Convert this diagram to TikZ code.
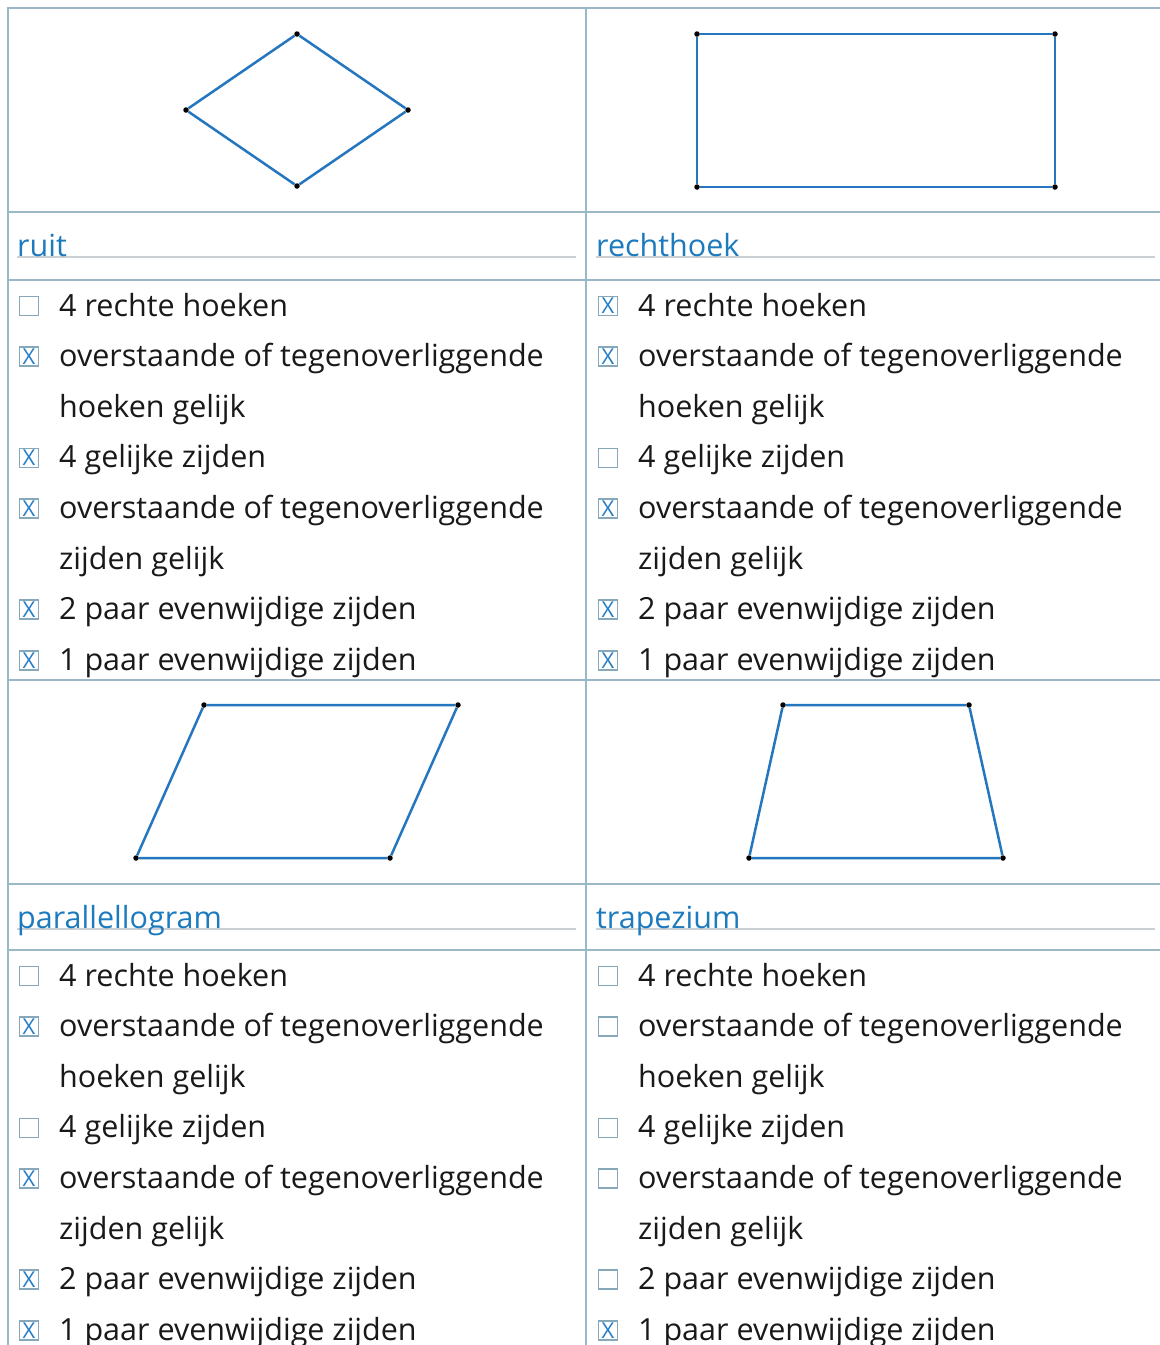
\documentclass[tikz,border=0pt]{standalone}
\usepackage{fontspec}
\setmainfont{Open Sans}
\definecolor{tabcol}{RGB}{155,184,198}
\definecolor{figcol}{RGB}{36,118,190}
\definecolor{labcol}{RGB}{28,122,190}
\definecolor{guidecol}{RGB}{205,208,210}
\definecolor{boxcol}{RGB}{135,168,186}
\definecolor{crosscol}{RGB}{35,125,200}

\begin{document}
\begin{tikzpicture}[x=1pt,y=-1pt]
\tikzstyle{every node}=[font=\fontsize{30.5}{36}\selectfont]
\tikzstyle{dot}=[circle,fill=black,minimum size=5.5pt,inner sep=0pt]
\tikzstyle{tabline}=[draw=tabcol,line width=2.2pt]
\tikzstyle{guide}=[draw=guidecol,line width=1.8pt]
\tikzstyle{figline}=[draw=figcol,line width=2.5pt]
\tikzstyle{shapename}=[anchor=base west,inner sep=0pt,text=labcol]
\tikzstyle{item}=[anchor=base west,inner sep=0pt,text=black!90]
\tikzstyle{cbox}=[draw=boxcol,line width=1.6pt,minimum width=19pt,minimum height=19pt,inner sep=0pt]
\tikzstyle{cross}=[inner sep=0pt,text=crosscol,font=\fontsize{22}{22}\selectfont]
\useasboundingbox (0,0) rectangle (1160,1345);
\fill[white] (0,0) rectangle (1160,1345);

\draw[tabline] (7,8) -- (1160,8);
\draw[tabline] (7,212) -- (1160,212);
\draw[tabline] (7,280) -- (1160,280);
\draw[tabline] (7,680) -- (1160,680);
\draw[tabline] (7,884) -- (1160,884);
\draw[tabline] (7,950) -- (1160,950);
\draw[tabline] (8,7) -- (8,1345);
\draw[tabline] (586,7) -- (586,1345);

\draw[guide] (17,257) -- (576,257);
\draw[guide] (596,257) -- (1155,257);
\draw[guide] (17,929) -- (576,929);
\draw[guide] (596,929) -- (1155,929);

\node[shapename] (ruit) at (17,256) {ruit};
\node[shapename] (rechthoek) at (596,256) {rechthoek};
\node[shapename] (parallellogram) at (17,928) {parallellogram};
\node[shapename] (trapezium) at (596,928) {trapezium};

\draw (297,34) node (r1) [dot] {};
\draw (408,110) node (r2) [dot] {};
\draw (297,186) node (r3) [dot] {};
\draw (186,110) node (r4) [dot] {};
\draw[figline] (r1) -- (r2) -- (r3) -- (r4) -- (r1);

\draw (697,34) node (h1) [dot] {};
\draw (1055,34) node (h2) [dot] {};
\draw (1055,187) node (h3) [dot] {};
\draw (697,187) node (h4) [dot] {};
\draw[figline] (h1) -- (h2) -- (h3) -- (h4) -- (h1);

\draw (204,705) node (p1) [dot] {};
\draw (458,705) node (p2) [dot] {};
\draw (390,858) node (p3) [dot] {};
\draw (136,858) node (p4) [dot] {};
\draw[figline] (p1) -- (p2) -- (p3) -- (p4) -- (p1);

\draw (783,705) node (t1) [dot] {};
\draw (969,705) node (t2) [dot] {};
\draw (1003,858) node (t3) [dot] {};
\draw (749,858) node (t4) [dot] {};
\draw[figline] (t1) -- (t2) -- (t3) -- (t4) -- (t1);

\foreach \p/\ox/\oy in {a/0/0,b/579/0,c/0/670,d/579/670}{
  \foreach \t [count=\i] in {4 rechte hoeken,overstaande of tegenoverliggende,hoeken gelijk,4 gelijke zijden,overstaande of tegenoverliggende,zijden gelijk,2 paar evenwijdige zijden,1 paar evenwijdige zijden}
    \node[item] (txt\p\i) at (\ox+59,\oy+316+50.6*\i-50.6) {\t};
  \foreach \i in {1,2,4,5,7,8}
    \node[cbox] (box\p\i) at (\ox+29,\oy+306+50.6*\i-50.6) {};
}
\foreach \p/\i in {a/2,a/4,a/5,a/7,a/8,b/1,b/2,b/5,b/7,b/8,c/2,c/5,c/7,c/8,d/8}
  \node[cross] at (box\p\i) {X};
\end{tikzpicture}
\end{document}
